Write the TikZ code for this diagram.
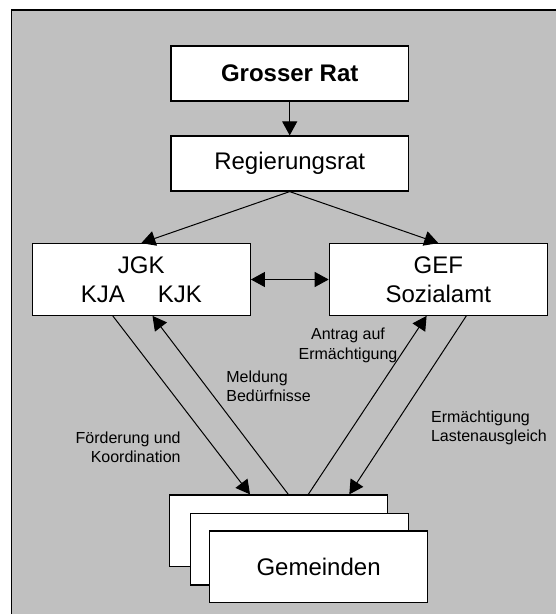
\documentclass[tikz,border=0pt]{standalone}
\usepackage{fontspec}
\setmainfont{Liberation Sans}
\usetikzlibrary{arrows.meta}
\definecolor{panelgray}{RGB}{192,192,192}
\tikzset{
	box/.style={draw,fill=white,line width=1.2pt,inner sep=0pt,minimum width=#1,font=\fontsize{24}{29}\selectfont,align=center},
	note/.style={inner sep=0pt,font=\fontsize{16}{19.5}\selectfont},
	arr/.style={line width=1pt,-{Triangle[length=14pt,width=15pt]}},
	dblarr/.style={line width=1pt,{Triangle[length=14pt,width=15pt]}-{Triangle[length=14pt,width=15pt]}}
}
\begin{document}
		\begin{tikzpicture}[x=1pt,y=-1pt]
			\useasboundingbox (0,0) rectangle (556,614);
			\fill[panelgray] (11.7,10) rectangle (556,614);
			\draw[line width=1.2pt] (11.7,614) -- (11.7,10) -- (556,10);
			\node[box=237.6pt,minimum height=55pt] (grat) at (289.7,73.5) {\textbf{Grosser Rat}};
			\node[box=237.6pt,minimum height=55pt] (rrat) at (289.7,163.5) {Regierungsrat};
			\node[box=218pt,minimum height=71.6pt] (jgk) at (141.3,279.5) {JGK\\KJA\hspace{33pt}KJK};
			\node[box=218pt,minimum height=71.6pt] (gef) at (438.3,279.5) {GEF\\Sozialamt};
			\node[box=218pt,minimum height=71.7pt] (gemback) at (278.5,530.8) {};
			\node[box=218pt,minimum height=71.7pt] (gemmid) at (299.5,549.2) {};
			\node[box=218pt,minimum height=71.7pt] (gem) at (318.6,566.8) {Gemeinden};
			\node[note,anchor=east,align=right] (foerd) at (180.8,447.5) {Förderung und\\Koordination};
			\node[note,anchor=west,align=left] (meld) at (226.2,386.5) {Meldung\\Bedürfnisse};
			\node[note,align=center] (antrag) at (348,345.5) {Antrag auf\\Ermächtigung};
			\node[note,anchor=west,align=left] (ermlast) at (430.9,428) {Ermächtigung\\Lastenausgleich};
			\draw[arr] (grat) -- (rrat);
			\draw[arr] (rrat.south) -- (jgk.north);
			\draw[arr] (rrat.south) -- (gef.north);
			\draw[dblarr] (jgk) -- (gef);
			\draw[arr] ([xshift=-28.5pt]jgk.south) -- ([xshift=-28.5pt]gemback.north);
			\draw[arr] ([xshift=9.8pt]gemback.north) -- ([xshift=11.2pt]jgk.south);
			\draw[arr] ([xshift=29.8pt]gemback.north) -- ([xshift=-11.7pt]gef.south);
			\draw[arr] ([xshift=28pt]gef.south) -- ([xshift=70.8pt]gemback.north);
		\end{tikzpicture}
\end{document}
